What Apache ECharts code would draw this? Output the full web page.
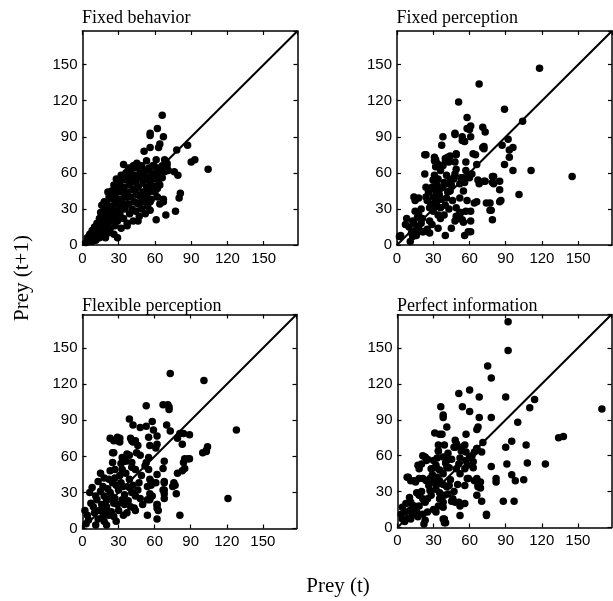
<!DOCTYPE html>
<html><head><meta charset="utf-8">
<script src="https://cdn.jsdelivr.net/npm/echarts@6/dist/echarts.min.js"></script>
<style>html,body{margin:0;padding:0;background:#fff}#c{width:613px;height:601px}</style>
</head><body><div id="c"></div><script>
const panelTitles = ['Fixed behavior', 'Fixed perception', 'Flexible perception', 'Perfect information'];
const tickValues = [0, 30, 60, 90, 120, 150];
const axisMin = 0;
const axisMax = 178;
const xAxisName = 'Prey (t)';
const yAxisName = 'Prey (t+1)';

const fixedBehavior = [
[66,108],[62,97],[56,93],[56,91],[67,90],[64,84],[63,81],[56,81],[51,78],[87,83],[78,79],[90,69],[93,71],[104,63],
[68,71],[70,68],[61,71],[68,61],[76,61],[79,58],[81,43],[80,39],[67,38],[67,36],[77,28],[69,25],[61,21],[46,20],
[29,6],[34,67],[45,68],[53,70],[59,66],[66,66],[62,60],[61,49],[62,47],[55,46],[56,36],[56,29],[48,35],[37,16],[19,6],
[3,2],[4,6],[5,3],[6,9],[7,5],[8,12],[8,3],[9,7],[10,15],[10,10],[11,4],[12,8],[12,18],[13,13],[14,22],[14,6],
[15,10],[15,27],[16,16],[16,33],[17,20],[17,12],[18,7],[18,25],[19,30],[19,15],[20,22],[20,35],[21,10],[21,18],
[22,28],[22,40],[23,14],[23,24],[24,32],[24,45],[25,20],[25,38],[26,9],[26,28],[27,16],[27,42],[28,34],[28,24],
[29,48],[29,20],[30,30],[30,38],[31,52],[31,26],[32,44],[32,14],[33,35],[33,56],[34,22],[34,48],[35,40],[35,30],
[36,54],[36,60],[37,18],[37,44],[38,34],[38,58],[39,26],[39,50],[40,40],[40,62],[41,30],[41,55],[42,46],[42,20],
[43,36],[43,58],[44,52],[44,28],[45,64],[45,42],[46,48],[46,34],[47,56],[47,24],[48,60],[48,40],[49,66],[49,30],
[50,52],[50,44],[51,36],[51,58],[52,62],[52,26],[53,48],[53,40],[54,56],[54,32],[55,64],[55,44],[56,52],[57,60],
[57,38],[58,48],[58,66],[59,55],[60,58],[60,44],[62,64],[63,54],[64,50],[65,62],[66,56],[70,66],[71,62],[62,40],[64,34],
[18,36],[21,44],[26,50],[28,55],[32,58],[24,28],[30,46],[38,64],[42,66]
];

const fixedPerception = [
[118,147],[68,134],[51,119],[89,113],[104,103],[58,106],[61,99],[60,96],[71,98],[73,94],[48,92],[38,90],[37,83],
[54,90],[54,87],[61,90],[71,81],[72,82],[92,88],[96,81],[93,79],[87,83],[93,73],[89,67],[96,62],[111,62],[145,57],
[101,42],[85,53],[79,57],[79,52],[73,53],[67,54],[68,51],[85,46],[85,36],[74,35],[77,29],[79,21],[64,35],[61,28],
[61,20],[61,11],[56,8],[53,27],[51,22],[54,21],[55,19],[40,8],[27,10],[22,11],[16,12],[16,8],[11,3],[3,8],
[23,75],[23,59],[30,54],[31,73],[31,70],[34,67],[40,72],[40,69],[44,74],[49,76],[47,56],[48,59],[60,56],[65,75],
[66,67],[62,59],[55,56],
[48,93],[58,97],[56,86],[63,76],[72,80],[49,75],[24,75],[32,71],[33,68],[32,65],[38,66],[36,62],[42,73],[43,69],
[48,69],[49,63],[57,69],[57,62],[31,58],[34,55],[30,54],[41,58],[44,54],[42,51],[47,55],[53,56],[52,51],[59,58],
[56,52],[72,53],[80,57],[80,51],[86,37],[77,35],[78,29],[66,36],[58,37],[57,28],[52,27],[49,24],[48,20],[45,14],
[59,11],[25,13],[21,11],[18,14],[13,7],[2,7],[14,40],[15,37],[18,39],[24,40],[25,37],[8,22],[7,17],[13,20],
[15,28],[18,25],[21,22],[27,31],[28,34],[32,37],[35,42],[38,48],[41,39],[44,45],[46,37],[49,31],[52,39],[55,45],
[36,31],[34,25],[39,25],[27,20],[29,17],[34,14],[24,48],[29,48],[32,45],[10,15],[12,10],[14,18],[20,30],[26,44],
[30,40],[33,50],[36,47],[39,52],[42,44],[45,50],[37,38],[40,33],[43,30],[30,28],[33,32],[36,22],[20,18],[17,23]
];

const flexiblePerception = [
[73,129],[101,123],[128,82],[121,25],[81,11],[54,11],[62,8],[62,20],[62,17],[67,103],[71,103],[72,101],[72,99],
[53,102],[39,91],[42,86],[48,84],[53,85],[58,89],[70,86],[73,81],[81,79],[84,79],[89,78],[79,75],[83,70],
[100,63],[103,65],[104,68],[103,64],[89,58],[84,55],[85,50],[79,46],[76,38],[77,36],[68,56],[67,50],[68,39],
[68,32],[68,29],[62,45],[61,38],[56,41],[57,36],[56,29],[56,24],[62,70],[62,77],[61,67],[55,76],[56,69],[59,82],
[55,59],[53,55],[52,52],[45,63],[48,61],[40,75],[42,72],[29,76],[31,75],[31,72],[23,75],[25,63],[37,62],[34,56],
[26,73],[29,73],[41,73],[44,73],[46,69],[26,63],[33,59],[36,56],[32,54],[39,61],[41,55],[25,55],[27,49],[23,48],
[33,49],[36,46],[39,41],[41,51],[44,49],[15,46],[18,42],[13,39],[22,41],[25,38],[27,42],[32,38],[34,35],[30,32],
[39,34],[41,30],[44,27],[47,38],[48,25],[8,34],[6,30],[11,27],[15,31],[18,27],[20,24],[23,30],[27,25],[26,21],
[33,24],[35,20],[30,15],[40,18],[43,17],[44,15],[2,15],[4,11],[5,7],[9,18],[10,13],[13,8],[16,20],[19,15],[22,11],
[24,14],[26,10],[28,6],[18,6],[20,3],[11,3],[34,11],[37,13],[55,49],[57,39],[54,35],[58,27],[54,24],[68,38],
[67,32],[68,25],[62,20],[63,15],[75,35],[78,29],[83,48],[85,58],[88,58],[3,4],[7,21],[12,24],[14,15],[17,35],
[20,18],[21,33],[24,27],[28,36],[29,20],[31,44],[35,28],[38,23],[42,36],[46,32],[49,44],[50,20],[17,10]
];

const perfectInformation = [
[92,172],[92,148],[75,135],[78,125],[60,115],[51,112],[68,109],[90,109],[114,107],[110,100],[36,101],[54,101],
[60,97],[38,94],[38,92],[100,88],[78,92],[68,92],[41,84],[67,84],[66,82],[57,78],[31,79],[35,78],[134,75],
[138,76],[170,99],[95,72],[107,69],[90,67],[71,71],[66,66],[64,63],[62,60],[53,67],[56,69],[47,67],[39,69],
[34,64],[33,58],[21,60],[25,57],[32,50],[40,54],[52,58],[57,56],[63,55],[78,51],[91,53],[108,54],[123,53],
[95,44],[82,41],[82,38],[98,39],[105,40],[64,39],[67,35],[69,33],[59,41],[66,27],[70,22],[97,22],[88,22],
[74,11],[74,10],[51,21],[56,20],[52,10],[45,22],[39,7],[40,4],[22,3],[8,42],[11,39],[15,38],[18,41],
[37,78],[48,67],[42,62],[45,57],[41,56],[34,69],[34,64],[38,59],[23,59],[24,56],[20,53],[30,56],[32,52],[28,49],
[17,52],[18,49],[35,48],[38,45],[41,50],[43,50],[49,49],[52,45],[56,49],[58,52],[63,50],[9,42],[14,39],[21,41],
[24,39],[27,41],[30,38],[32,36],[35,39],[38,36],[41,34],[43,35],[32,32],[35,29],[39,27],[27,31],[28,27],[25,24],
[16,29],[18,27],[21,24],[10,25],[11,21],[7,20],[14,18],[18,18],[23,21],[4,17],[6,13],[3,11],[10,14],[13,11],
[16,13],[9,8],[4,7],[11,7],[17,9],[21,11],[25,13],[30,15],[34,18],[38,17],[35,24],[38,21],[32,13],[46,24],
[48,21],[52,18],[66,41],[69,38],[67,34],[58,41],[56,35],[51,53],[53,64],[57,63],[60,59],[66,66],[70,63],[48,73],
[49,70],[23,6],[38,7],[39,4],[6,5],[12,16],[20,30],[26,35],[29,44],[33,42],[44,40],[47,30],[50,36],[42,28]
];

const panelData = [fixedBehavior, fixedPerception, flexiblePerception, perfectInformation];
const diagonal = [[axisMin, axisMin], [axisMax, axisMax]];

const grids = [
  {left: 82.5, top: 31, width: 215, height: 214},
  {left: 397, top: 31, width: 215, height: 214},
  {left: 82.5, top: 314.5, width: 214, height: 214},
  {left: 397.5, top: 314.5, width: 214, height: 213}
];
const titleTops = [9, 9, 297, 297];

const labelFont = 'Liberation Sans, Arial, sans-serif';
const serifFont = 'Liberation Serif, Times New Roman, serif';
const fmt = v => (tickValues.indexOf(v) >= 0 ? String(v) : '');

function makeAxis(gi, pos, showLabels) {
  return {
    type: 'value', gridIndex: gi, position: pos,
    min: axisMin, max: axisMax, interval: 30,
    splitLine: {show: false},
    axisLine: {show: true, onZero: false, lineStyle: {color: '#000', width: 1.5}},
    axisTick: {show: true, inside: true, length: 4, lineStyle: {color: '#000', width: 1.2}},
    axisLabel: {show: showLabels, formatter: fmt, showMaxLabel: false, color: '#000',
      fontFamily: labelFont, fontSize: 15, margin: (pos === 'left' ? 5 : 6)}
  };
}

const xAxes = [], yAxes = [], series = [], titles = [];
grids.forEach((g, i) => {
  xAxes.push(makeAxis(i, 'bottom', true));
  xAxes.push(makeAxis(i, 'top', false));
  yAxes.push(makeAxis(i, 'left', true));
  yAxes.push(makeAxis(i, 'right', false));
  series.push({
    type: 'line', xAxisIndex: i * 2, yAxisIndex: i * 2, data: diagonal,
    showSymbol: false, silent: true, lineStyle: {color: '#000', width: 2}, z: 1
  });
  series.push({
    type: 'scatter', xAxisIndex: i * 2, yAxisIndex: i * 2, data: panelData[i],
    symbol: 'circle', symbolSize: 7.5, itemStyle: {color: '#000', opacity: 1}, z: 2
  });
  titles.push({
    text: panelTitles[i], left: g.left - 0.5, top: titleTops[i], padding: 0,
    textStyle: {fontFamily: serifFont, fontSize: 18, fontWeight: 'normal', color: '#000'}
  });
});

const chart = echarts.init(document.getElementById('c'), null, {renderer: 'canvas'});
chart.setOption({
  animation: false,
  backgroundColor: '#fff',
  title: titles,
  grid: grids,
  xAxis: xAxes,
  yAxis: yAxes,
  series: series,
  graphic: [
    {type: 'text', x: 22, y: 278, rotation: Math.PI / 2,
      style: {text: yAxisName, font: '21px ' + serifFont, fill: '#000', textAlign: 'center', textVerticalAlign: 'middle'}},
    {type: 'text', x: 338, y: 586,
      style: {text: xAxisName, font: '21px ' + serifFont, fill: '#000', textAlign: 'center', textVerticalAlign: 'middle'}}
  ]
});
</script></body></html>
